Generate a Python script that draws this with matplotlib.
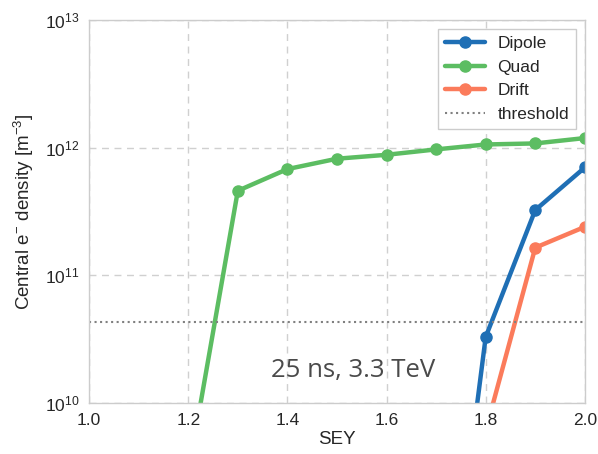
#!/usr/bin/env python3
# -*- coding: utf-8 -*-

from matplotlib import pyplot as plt
import numpy as np

## Data section
sey_quad   = [1.2, 1.3, 1.4, 1.5, 1.6, 1.7, 1.8, 1.9, 2.0]
dens_quad  = [2.8e9, 4.6e11, 6.8e11, 8.2e11, 8.8e11, 9.7e11, 1.06e12, 1.08e12, 1.19e12]
sey_dipole  = [1.7, 1.8, 1.9, 2.0]
dens_dipole = [3.0e7, 3.3e10, 3.25e11, 7.0e11]
sey_drift  = [1.8, 1.9, 2.0]
dens_drift = [6.1e9, 1.65e11, 2.4e11]
threshold  = 4.3e10

legends = ['Dipole', 'Quad', 'Drift', 'threshold']
xlabel  = 'SEY'
ylabel  = r'Central e$^{-}$ density [m$^{-3}$]'
note    = '25 ns, 3.3 TeV'

## Config section
plt.style.use('seaborn-v0_8-whitegrid')
plt.rcParams['font.family'] = ['Liberation Sans', 'DejaVu Sans']
plt.rcParams['mathtext.fontset'] = 'custom'
plt.rcParams['mathtext.rm'] = 'Liberation Sans'
plt.rcParams['mathtext.it'] = 'Liberation Sans:italic'
plt.rcParams['font.size'] = 12
plt.rcParams['axes.edgecolor'] = '#cccccc'
plt.rcParams['text.color'] = '#262626'
plt.rcParams['axes.labelcolor'] = '#262626'
plt.rcParams['xtick.color'] = '#262626'
plt.rcParams['ytick.color'] = '#262626'

colors = ['#1f6fb5', '#5cbd62', '#fb7b5b']
linewidth  = 3.2
markersize = 8

## Plot section
fig = plt.figure(figsize=(5.98, 4.54), dpi=100)
ax = fig.add_axes([0.149, 0.112, 0.829, 0.844])

ax.plot(sey_dipole, dens_dipole, color=colors[0], linewidth=linewidth,
        marker='o', markersize=markersize, label=legends[0])
ax.plot(sey_quad, dens_quad, color=colors[1], linewidth=linewidth,
        marker='o', markersize=markersize, label=legends[1])
ax.plot(sey_drift, dens_drift, color=colors[2], linewidth=linewidth,
        marker='o', markersize=markersize, label=legends[2])
ax.axhline(threshold, color='#808080', linestyle=':', linewidth=1.5,
           label=legends[3])

ax.text(1.532, 1.8e10, note, fontsize=18.5, family='Open Sans',
        color='#4a4a4a', ha='center', va='center')

## Wrap-up plot
ax.set_yscale('log')
ax.set_xlim(1.0, 2.0)
ax.set_ylim(1e10, 1e13)
ax.set_xticks(np.arange(1.0, 2.01, 0.2))
ax.minorticks_off()
ax.grid(True, linestyle=(0, (5, 4)), color='#d0d0d0', linewidth=1)
for s in ax.spines.values():
    s.set_visible(True)
    s.set_color('#cccccc')
ax.tick_params(length=0, labelsize=12.5, pad=7)
ax.set_xlabel(xlabel, fontsize=13.5, labelpad=2)
ax.set_ylabel(ylabel, fontsize=13.5, labelpad=6)

leg = ax.legend(loc='upper right', fontsize=12.5, frameon=True, fancybox=False,
                handlelength=2.3, handletextpad=0.75)
leg.get_frame().set_edgecolor('#cccccc')
leg.get_frame().set_facecolor('white')
leg.get_frame().set_alpha(1)

plt.savefig('out.png', dpi=100)
plt.close()
